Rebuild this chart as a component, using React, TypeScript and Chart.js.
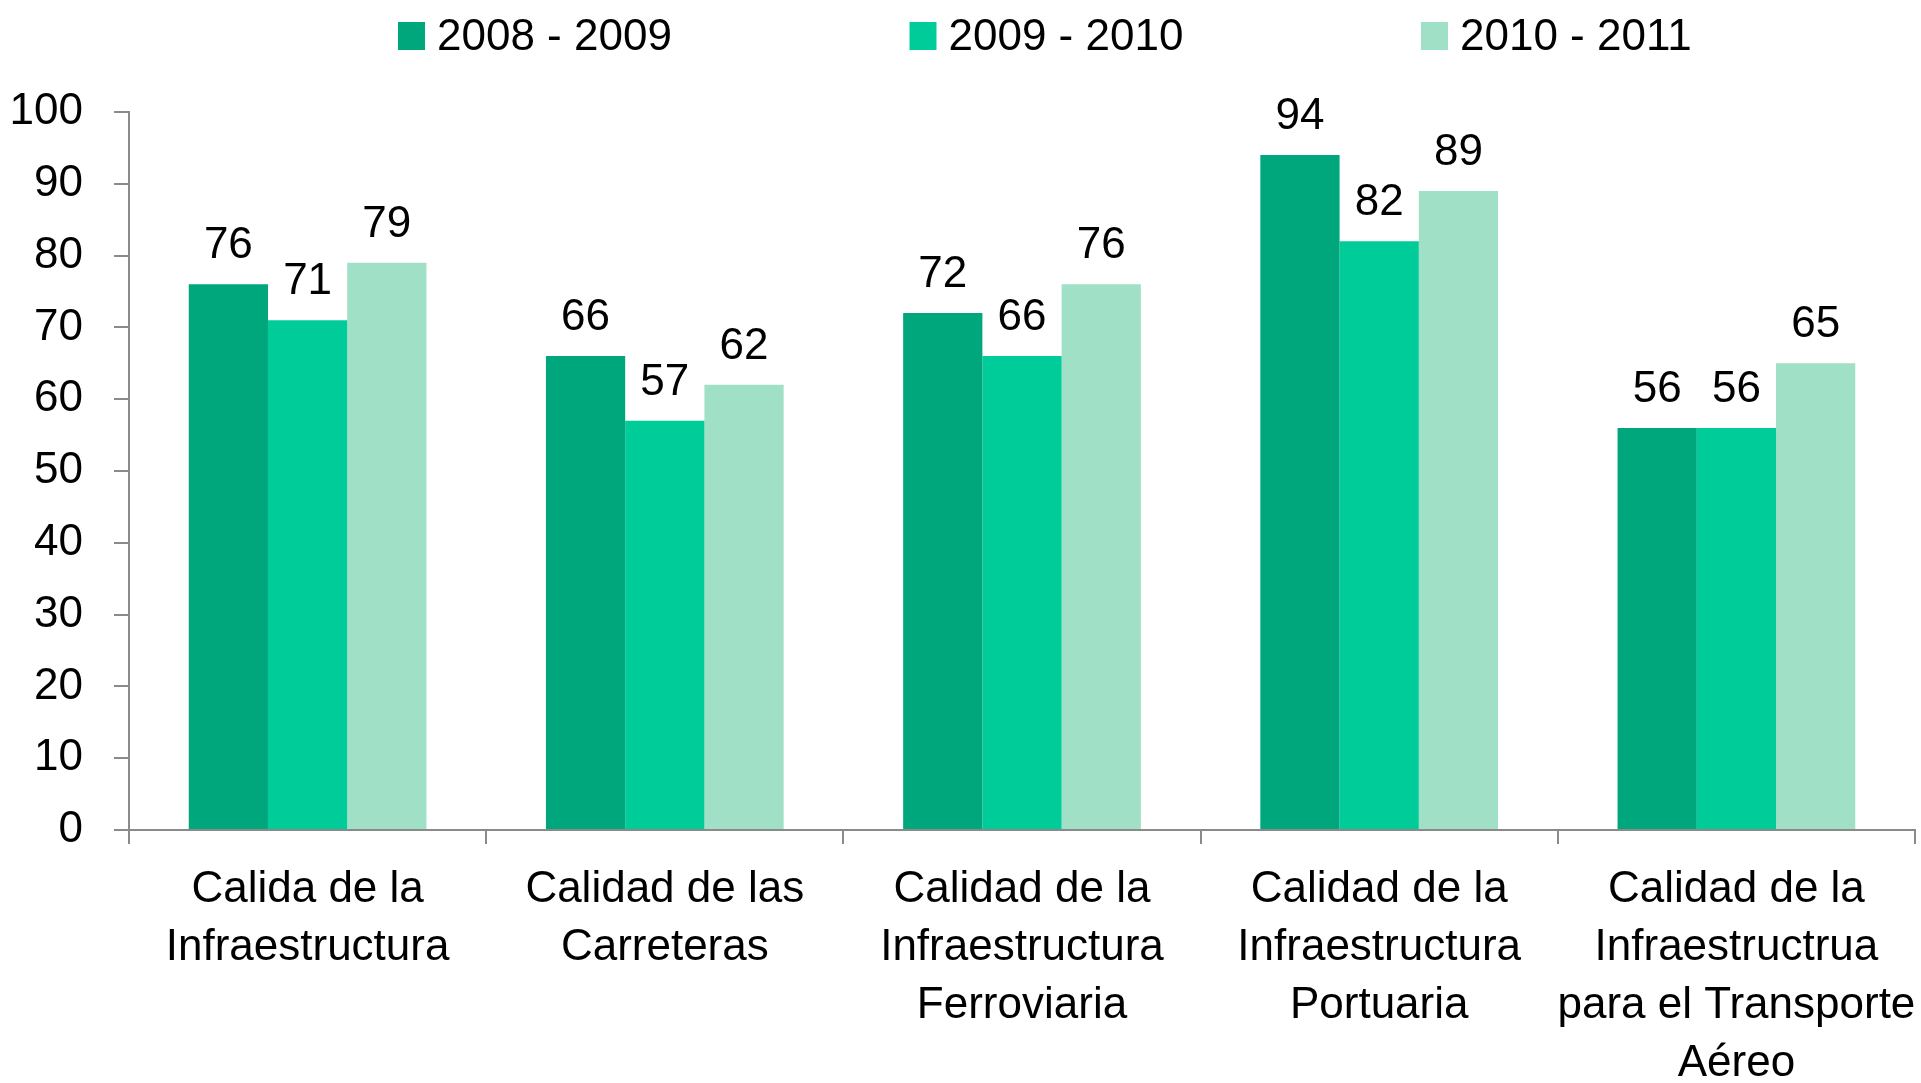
import React, { useEffect, useRef } from "react";
import { Chart, registerables } from "chart.js";

Chart.register(...registerables);

const categories: string[][] = [
  ["Calida de la", "Infraestructura"],
  ["Calidad de las", "Carreteras"],
  ["Calidad de la", "Infraestructura", "Ferroviaria"],
  ["Calidad de la", "Infraestructura", "Portuaria"],
  ["Calidad de la", "Infraestructrua", "para el Transporte", "Aéreo"],
];
const seriesNames = ["2008 - 2009", "2009 - 2010", "2010 - 2011"];
const values0809 = [76, 66, 72, 94, 56];
const values0910 = [71, 57, 66, 82, 56];
const values1011 = [79, 62, 76, 89, 65];
const yMin = 0;
const yMax = 100;
const yStep = 10;

const COLORS = ["#00A77D", "#00CC99", "#A0E0C6"];
const FONT = "'Liberation Sans', Arial, sans-serif";
const FONT_SIZE = 44;
const AXIS_GRAY = "#8a8a8a";

const valueLabels = {
  id: "valueLabels",
  afterDatasetsDraw(chart: any) {
    const ctx = chart.ctx;
    ctx.save();
    ctx.font = `${FONT_SIZE}px ${FONT}`;
    ctx.fillStyle = "#000";
    ctx.textAlign = "center";
    ctx.textBaseline = "alphabetic";
    chart.data.datasets.forEach((ds: any, di: number) => {
      const meta = chart.getDatasetMeta(di);
      meta.data.forEach((el: any, i: number) => {
        ctx.fillText(String(ds.data[i]), el.x, el.y - 26);
      });
    });
    ctx.restore();
  },
};

const customLegend = {
  id: "customLegend",
  afterDraw(chart: any) {
    const ctx = chart.ctx;
    ctx.save();
    ctx.font = `${FONT_SIZE}px ${FONT}`;
    ctx.textAlign = "left";
    ctx.textBaseline = "alphabetic";
    const startX = 398;
    const spacing = 511.5;
    chart.data.datasets.forEach((ds: any, i: number) => {
      const x = startX + i * spacing;
      ctx.fillStyle = ds.backgroundColor;
      ctx.fillRect(x, 22, 27, 28);
      ctx.fillStyle = "#000";
      ctx.fillText(ds.label, x + 39, 50);
    });
    ctx.restore();
  },
};

export default function App() {
  const canvasRef = useRef<HTMLCanvasElement | null>(null);

  useEffect(() => {
    if (!canvasRef.current) return;
    const chart = new Chart(canvasRef.current, {
      type: "bar",
      data: {
        labels: categories,
        datasets: [
          { label: seriesNames[0], data: values0809, backgroundColor: COLORS[0] },
          { label: seriesNames[1], data: values0910, backgroundColor: COLORS[1] },
          { label: seriesNames[2], data: values1011, backgroundColor: COLORS[2] },
        ],
      },
      options: {
        animation: false,
        responsive: true,
        maintainAspectRatio: false,
        layout: { padding: { top: 112, right: 6, left: 0, bottom: 0 } },
        datasets: {
          bar: { categoryPercentage: 0.6655, barPercentage: 1.0, borderWidth: 0 },
        },
        plugins: {
          legend: { display: false },
          tooltip: { enabled: false },
        },
        scales: {
          x: {
            offset: true,
            grid: {
              offset: true,
              drawOnChartArea: false,
              drawTicks: true,
              tickLength: 14,
              color: AXIS_GRAY,
              lineWidth: 2,
            },
            border: { color: AXIS_GRAY, width: 2 },
            ticks: {
              color: "#000",
              font: { family: FONT, size: FONT_SIZE, lineHeight: 58 / 44 },
              padding: 17,
              maxRotation: 0,
              autoSkip: false,
            },
            afterFit(scale: any) {
              scale.height = 253;
              scale.paddingLeft = 0;
              scale.paddingRight = 0;
            },
          },
          y: {
            min: yMin,
            max: yMax,
            grid: {
              drawOnChartArea: false,
              drawTicks: true,
              tickLength: 15,
              color: AXIS_GRAY,
              lineWidth: 2,
            },
            border: { color: AXIS_GRAY, width: 2 },
            ticks: {
              stepSize: yStep,
              color: "#000",
              font: { family: FONT, size: FONT_SIZE },
              padding: 31,
            },
            afterFit(scale: any) {
              scale.width = 129;
              scale.paddingTop = 0;
              scale.paddingBottom = 0;
            },
          },
        },
      },
      plugins: [valueLabels, customLegend],
    });
    return () => chart.destroy();
  }, []);

  return (
    <div style={{ position: "fixed", left: 0, top: 0, width: 1921, height: 1083, background: "#fff" }}>
      <canvas ref={canvasRef} />
    </div>
  );
}
